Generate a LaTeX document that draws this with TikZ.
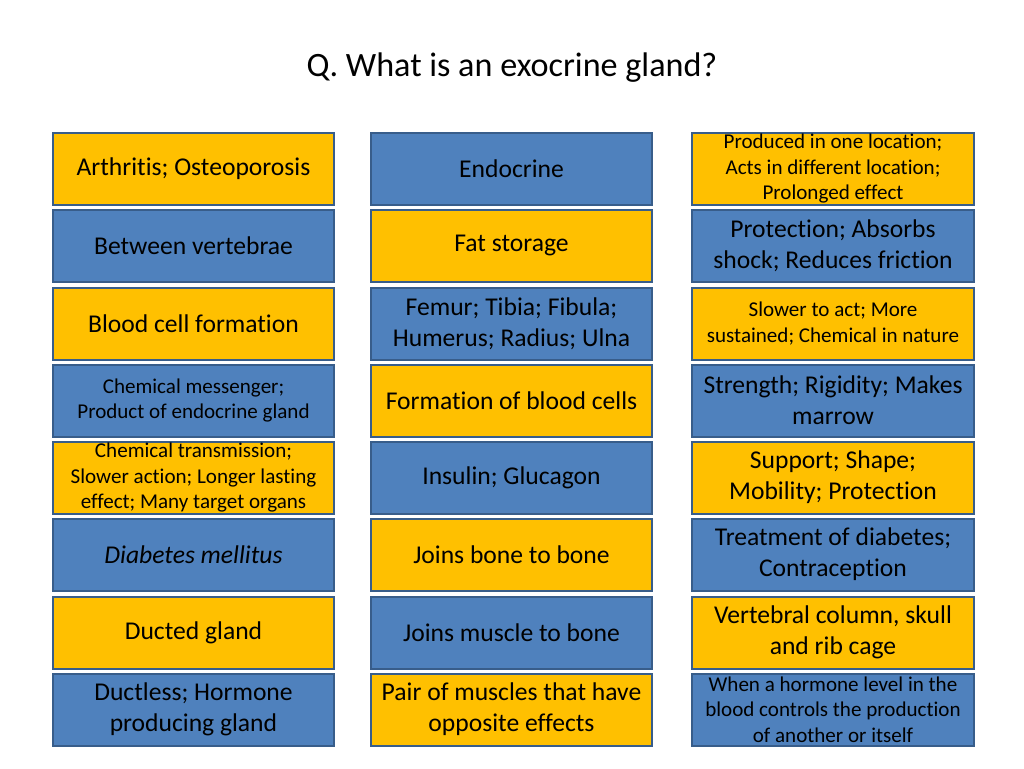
\documentclass[tikz,border=0pt]{standalone}
\usepackage{fontspec}
\setmainfont[Ligatures={NoCommon}]{Carlito}
\definecolor{yel}{HTML}{FFC000}
\definecolor{blu}{HTML}{4F81BD}
\definecolor{bord}{HTML}{385D8A}
\tikzset{
  cell/.style={draw=bord, line width=1.5pt, minimum width=211pt, minimum height=54pt, inner sep=0pt, align=center, text=black},
  Y/.style={cell, fill=yel},
  B/.style={cell, fill=blu},
  big/.style={font=\fontsize{19.2}{23.2}\selectfont},
  sm/.style={font=\fontsize{15.8}{19.2}\selectfont}
}
\begin{document}
\begin{tikzpicture}[x=0.75pt,y=-0.75pt]
\useasboundingbox (0,0) rectangle (1024,768);
\node[font=\fontsize{25.6}{30}\selectfont] (title) at (512,68) {Q. What is an exocrine gland?};
% column 1
\node[Y,big] (a1) at (193.5,168.5) {Arthritis; Osteoporosis};
\node[B,big] (a2) at (193.5,245.5) {Between vertebrae};
\node[Y,big] (a3) at (193.5,323.5) {Blood cell formation};
\node[B,sm]  (a4) at (193.5,400.5) {Chemical messenger;\\Product of endocrine gland};
\node[Y,sm]  (a5) at (193.5,477.5) {Chemical transmission;\\Slower action; Longer lasting\\effect; Many target organs};
\node[B,big] (a6) at (193.5,554.5) {\itshape Diabetes mellitus};
\node[Y,big] (a7) at (193.5,632.5) {Ducted gland};
\node[B,big] (a8) at (193.5,709.5) {Ductless; Hormone\\producing gland};
% column 2
\node[B,big] (b1) at (511.5,168.5) {Endocrine};
\node[Y,big] (b2) at (511.5,245.5) {Fat storage};
\node[B,big] (b3) at (511.5,323.5) {Femur; Tibia; Fibula;\\Humerus; Radius; Ulna};
\node[Y,big] (b4) at (511.5,400.5) {Formation of blood cells};
\node[B,big] (b5) at (511.5,477.5) {Insulin; Glucagon};
\node[Y,big] (b6) at (511.5,554.5) {Joins bone to bone};
\node[B,big] (b7) at (511.5,632.5) {Joins muscle to bone};
\node[Y,big] (b8) at (511.5,709.5) {Pair of muscles that have\\opposite effects};
% column 3
\node[Y,sm]  (c1) at (833,168.5) {Produced in one location;\\Acts in different location;\\Prolonged effect};
\node[B,big] (c2) at (833,245.5) {Protection; Absorbs\\shock; Reduces friction};
\node[Y,sm]  (c3) at (833,323.5) {Slower to act; More\\sustained; Chemical in nature};
\node[B,big] (c4) at (833,400.5) {Strength; Rigidity; Makes\\marrow};
\node[Y,big] (c5) at (833,477.5) {Support; Shape;\\Mobility; Protection};
\node[B,big] (c6) at (833,554.5) {Treatment of diabetes;\\Contraception};
\node[Y,big] (c7) at (833,632.5) {Vertebral column, skull\\and rib cage};
\node[B,sm]  (c8) at (833,709.5) {When a hormone level in the\\blood controls the production\\of another or itself};
\end{tikzpicture}
\end{document}
